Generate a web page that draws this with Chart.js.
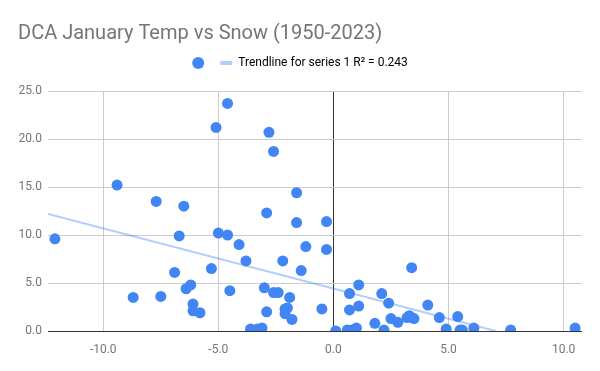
<!DOCTYPE html>
<html>
<head>
<meta charset="utf-8">
<script src="https://cdn.jsdelivr.net/npm/chart.js@4/dist/chart.umd.min.js"></script>
<style>
  html, body { margin: 0; padding: 0; background: #fff; }
  #wrap { width: 600px; height: 371px; }
</style>
</head>
<body>
<div id="wrap"><canvas id="chart"></canvas></div>
<script>
// January temperature departure (°F) vs January snowfall (in), DCA 1950-2023
const tempAnomaly = [
  -12.1, -9.4, -8.7, -7.7, -7.5, -6.9, -6.7, -6.5, -6.4, -6.2,
  -6.1, -6.1, -5.8, -5.3, -5.1, -5.0, -4.6, -4.6, -4.5, -4.1,
  -3.8, -3.6, -3.3, -3.1, -3.0, -2.9, -2.9, -2.8, -2.6, -2.6,
  -2.4, -2.2, -2.1, -2.0, -2.1, -1.9, -1.8, -1.6, -1.6, -1.4,
  -1.2, -0.5, -0.3, -0.3, 0.1, 0.6, 0.8, 1.0, 0.7, 1.1,
  0.7, 1.1, 1.8, 2.1, 2.2, 2.4, 2.5, 2.8, 3.2, 3.3,
  3.5, 3.4, 4.1, 4.6, 4.9, 5.4, 5.5, 5.6, 6.1, 7.7,
  10.5
];
const snowfall = [
  9.6, 15.2, 3.5, 13.5, 3.6, 6.1, 9.9, 13.0, 4.4, 4.8,
  2.8, 2.1, 1.9, 6.5, 21.2, 10.2, 23.7, 10.0, 4.2, 9.0,
  7.3, 0.2, 0.2, 0.3, 4.5, 12.3, 2.0, 20.7, 18.7, 4.0,
  4.0, 7.3, 2.3, 2.4, 1.8, 3.5, 1.2, 14.4, 11.3, 6.3,
  8.8, 2.3, 11.4, 8.5, 0.0, 0.1, 0.1, 0.3, 3.9, 4.8,
  2.2, 2.6, 0.8, 3.9, 0.1, 2.9, 1.3, 0.9, 1.4, 1.6,
  1.3, 6.6, 2.7, 1.4, 0.2, 1.5, 0.1, 0.1, 0.3, 0.1,
  0.3
];

// trendline end points
const trendX = [-12.4, 7.05];
const trendY = [12.2, 0];
const trendLabel = 'Trendline for series 1 R\u00B2 = 0.243';

const xTicks = [-10, -5, 0, 5, 10];
const yTicks = [0, 5, 10, 15, 20, 25];

const blue = '#4285f4';
const trendColor = 'rgba(66, 133, 244, 0.4)';
const gray = '#757575';

const points = tempAnomaly.map((t, i) => ({ x: t, y: snowfall[i] }));
const trend = trendX.map((t, i) => ({ x: t, y: trendY[i] }));

// extra room between the legend and the plot
const legendGap = {
  id: 'legendGap',
  beforeInit(chart) {
    const fit = chart.legend.fit;
    chart.legend.fit = function () {
      fit.bind(chart.legend)();
      this.height += 12;
    };
  }
};

new Chart(document.getElementById('chart'), {
  type: 'scatter',
  data: {
    datasets: [
      {
        label: '',
        data: points,
        backgroundColor: blue,
        borderColor: blue,
        borderWidth: 0,
        pointRadius: 5.5,
        order: 0
      },
      {
        type: 'line',
        label: trendLabel,
        data: trend,
        borderColor: trendColor,
        borderWidth: 2,
        pointRadius: 0,
        fill: false,
        order: 1
      }
    ]
  },
  options: {
    responsive: true,
    maintainAspectRatio: false,
    animation: false,
    layout: { padding: { left: 18, right: 18, top: 0, bottom: 0 } },
    scales: {
      x: {
        type: 'linear',
        min: -12.4,
        max: 10.8,
        afterBuildTicks: (scale) => { scale.ticks = xTicks.map(v => ({ value: v })); },
        afterFit: (scale) => { scale.height = 40; },
        border: { display: false },
        grid: {
          drawTicks: false,
          color: (ctx) => ctx.tick && ctx.tick.value === 0 ? '#333333' : '#cccccc'
        },
        ticks: {
          padding: 12,
          color: gray,
          font: { family: 'Roboto', size: 12 },
          callback: (v) => Number(v).toFixed(1)
        }
      },
      y: {
        type: 'linear',
        min: 0,
        max: 25,
        afterBuildTicks: (scale) => { scale.ticks = yTicks.map(v => ({ value: v })); },
        afterFit: (scale) => { scale.width = 30; },
        border: { display: false },
        grid: {
          drawTicks: false,
          color: (ctx) => ctx.tick && ctx.tick.value === 0 ? '#333333' : '#cccccc'
        },
        ticks: {
          padding: 6,
          color: gray,
          font: { family: 'Roboto', size: 12 },
          callback: (v) => Number(v).toFixed(1)
        }
      }
    },
    plugins: {
      title: {
        display: true,
        text: 'DCA January Temp vs Snow (1950-2023)',
        align: 'start',
        color: gray,
        font: { family: 'Roboto', size: 20, weight: 'normal' },
        padding: { top: 22, bottom: 1 }
      },
      legend: {
        display: true,
        labels: {
          usePointStyle: true,
          boxHeight: 8.5,
          padding: 10,
          color: gray,
          font: { family: 'Roboto', size: 12 },
          generateLabels: () => [
            { text: '', pointStyle: 'circle', fillStyle: blue, strokeStyle: blue, lineWidth: 0, hidden: false, datasetIndex: 0 },
            { text: trendLabel, pointStyle: 'line', fillStyle: trendColor, strokeStyle: trendColor, lineWidth: 4, hidden: false, datasetIndex: 1 }
          ]
        }
      },
      tooltip: { enabled: true }
    }
  },
  plugins: [legendGap]
});
</script>
</body>
</html>
